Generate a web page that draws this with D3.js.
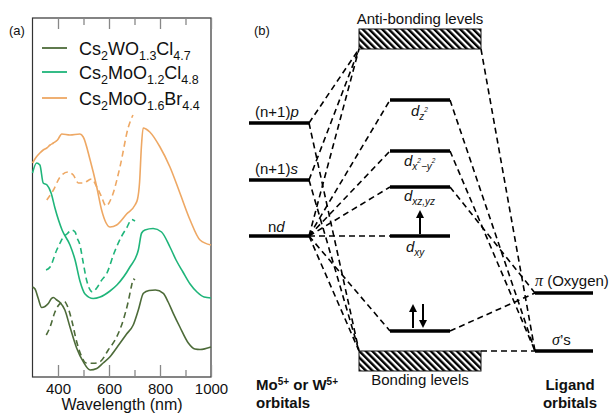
<!DOCTYPE html>
<html>
<head>
<meta charset="utf-8">
<script src="https://cdn.jsdelivr.net/npm/d3@7"></script>
<style>
  body { margin: 0; background: #fff; }
  svg { display: block; font-family: "Liberation Sans", Arial, Helvetica, sans-serif; }
</style>
</head>
<body>
<svg id="chart" width="612" height="414"></svg>
<script>
// ---------- Panel (a): absorption spectra (arbitrary units, vertically offset) ----------
const compounds = ["Cs2WO1.3Cl4.7", "Cs2MoO1.2Cl4.8", "Cs2MoO1.6Br4.4"];
const compoundColors = ["#4d6b39", "#1fb57a", "#eea864"];

const wSolidNm  = [300,310,322,336,349,362,375,382,395,408,427,447,473,499,526,552,577,604,635,669,695,715,735,757,782,813,832,852,878,911,937,957,1000];
const wSolidAbs = [0.90,0.88,0.79,0.695,0.705,0.735,0.787,0.795,0.77,0.745,0.67,0.50,0.29,0.153,0.07,0.085,0.14,0.203,0.31,0.43,0.52,0.67,0.837,0.865,0.87,0.837,0.75,0.637,0.50,0.34,0.28,0.275,0.30];
const wDashNm   = [354,369,388,400,415,425,435,454,473,493,510,538,565,597,630,656,675,689,695,702];
const wDashAbs  = [0.42,0.50,0.65,0.71,0.745,0.755,0.72,0.565,0.355,0.203,0.14,0.137,0.153,0.27,0.40,0.57,0.75,0.92,0.98,0.97];

const mSolidNm  = [300,316,329,342,357,373,388,416,447,467,486,506,538,565,604,631,682,715,728,741,773,806,839,863,890,918,945,973,1000];
const mSolidAbs = [2.04,2.14,2.12,1.94,1.92,1.84,1.69,1.47,1.32,1.17,0.96,0.83,0.785,0.80,0.86,0.92,1.10,1.27,1.44,1.47,1.485,1.45,1.30,1.17,1.05,0.93,0.85,0.80,0.79];
const mDashNm   = [353,369,395,408,421,435,454,467,475,486,497,512,522,535,552,569,592,620,650,669,689,702];
const mDashAbs  = [1.07,1.10,1.27,1.34,1.40,1.43,1.47,1.45,1.39,1.32,1.17,0.97,0.89,0.85,0.89,0.96,1.04,1.24,1.41,1.49,1.575,1.56];

const bSolidNm  = [300,315,329,342,356,369,382,398,415,447,486,499,526,552,571,604,630,669,702,712,720,727,734,745,760,800,839,878,918,957,1000];
const bSolidAbs = [2.14,2.20,2.24,2.27,2.29,2.32,2.34,2.37,2.43,2.42,2.43,2.40,2.17,1.90,1.67,1.50,1.52,1.63,1.72,1.78,1.95,2.30,2.49,2.48,2.45,2.30,2.10,1.84,1.57,1.37,1.32];
const bDashNm   = [356,382,408,440,460,480,499,532,552,571,588,611,643,676,694];
const bDashAbs  = [1.77,1.87,2.00,2.05,2.02,1.94,1.94,1.98,1.90,1.80,1.71,1.80,2.10,2.50,2.62];

const majorTicks = [400, 600, 800, 1000];
const minorTicks = [500, 700, 900];

// ---------- Panel (b): energy-level diagram ----------
const metalLevels  = ["np", "ns", "nd"];
const metalEnergy  = [69.25, 55, 41];
const dLevels      = ["dz2", "dx2y2", "dxz", "dxy", "bond"];
const dEnergy      = [75, 62.25, 53.25, 41, 17.25];
const ligandLevels = ["pi", "sigma"];
const ligandEnergy = [26.75, 12.25];
const bandNames    = ["anti", "bonding"];
const bandTop      = [92.75, 12.25];
const bandBottom   = [87.75, 7.25];
const links = [
  ["np", "antiL"], ["ns", "antiL"], ["nd", "antiL"],
  ["np", "bondingL"], ["ns", "bondingL"], ["nd", "bondingL"],
  ["nd", "dz2"], ["nd", "dx2y2"], ["nd", "dxz"], ["nd", "dxy"], ["nd", "bond"],
  ["dz2", "sigma"], ["dx2y2", "sigma"], ["dxz", "pi"], ["bond", "pi"],
  ["antiR", "sigma"], ["bondingR", "sigma"]
];

const svg = d3.select("#chart");

// ===== Panel (a) =====
const xA = d3.scaleLinear().domain([300, 1000]).range([32.5, 211]);
const yA = d3.scaleLinear().domain([0, 3.59]).range([377, 18]);

svg.append("rect")
  .attr("x", xA(300)).attr("y", yA(3.59))
  .attr("width", xA(1000) - xA(300)).attr("height", yA(0) - yA(3.59))
  .attr("fill", "none").attr("stroke", "#333").attr("stroke-width", 1.2);

function tickAxis(axisFn, values, size, y, labels) {
  const g = svg.append("g").attr("transform", `translate(0,${y})`)
    .call(axisFn(xA).tickValues(values).tickSize(size).tickFormat(labels ? d3.format("d") : ""));
  g.select(".domain").remove();
  g.selectAll(".tick line").attr("stroke", "#888").attr("stroke-width", 1.3);
  return g;
}
const bottomMajor = tickAxis(d3.axisBottom, majorTicks, -12, yA(0), true);
tickAxis(d3.axisBottom, minorTicks, -7, yA(0), false);
tickAxis(d3.axisTop, majorTicks, -11, yA(3.59), false);
tickAxis(d3.axisTop, minorTicks, -7, yA(3.59), false);
bottomMajor.selectAll(".tick text")
  .attr("y", 17).attr("dy", 0)
  .attr("font-size", 15).attr("fill", "#111")
  .attr("font-family", "Liberation Sans, Arial, sans-serif");

svg.append("text").attr("x", 122).attr("y", 410)
  .attr("text-anchor", "middle").attr("font-size", 16).attr("fill", "#111")
  .text("Wavelength (nm)");

svg.append("text").attr("x", 9).attr("y", 35).attr("font-size", 13).attr("fill", "#111").text("(a)");

const line = d3.line().x(d => xA(d[0])).y(d => yA(d[1])).curve(d3.curveMonotoneX);
const series = [
  { nm: wSolidNm, abs: wSolidAbs, c: 0, dash: null },
  { nm: wDashNm,  abs: wDashAbs,  c: 0, dash: "6,4" },
  { nm: mSolidNm, abs: mSolidAbs, c: 1, dash: null },
  { nm: mDashNm,  abs: mDashAbs,  c: 1, dash: "6,4" },
  { nm: bSolidNm, abs: bSolidAbs, c: 2, dash: null },
  { nm: bDashNm,  abs: bDashAbs,  c: 2, dash: "6,4" }
];
series.forEach(s => {
  svg.append("path")
    .attr("d", line(d3.zip(s.nm, s.abs)))
    .attr("fill", "none")
    .attr("stroke", compoundColors[s.c])
    .attr("stroke-width", 1.6)
    .attr("stroke-dasharray", s.dash);
});

// legend with subscripted stoichiometry
const legend = svg.append("g");
const legendY = [48, 72, 98];
compounds.forEach((name, i) => {
  legend.append("line")
    .attr("x1", 42).attr("x2", 67).attr("y1", legendY[i]).attr("y2", legendY[i])
    .attr("stroke", compoundColors[i]).attr("stroke-width", 1.8);
  const t = legend.append("text").attr("x", 79).attr("y", legendY[i] + 6.5)
    .attr("font-size", 18).attr("fill", "#111");
  const parts = name.split(/(\d+(?:\.\d+)?)/).filter(p => p.length);
  let lowered = false;
  parts.forEach(p => {
    const isNum = /^\d/.test(p);
    const ts = t.append("tspan").text(p);
    if (isNum) { ts.attr("font-size", 12.5).attr("dy", lowered ? 0 : 5); lowered = true; }
    else { ts.attr("dy", lowered ? -5 : 0); lowered = false; }
  });
});

// ===== Panel (b) =====
const eY = d3.scaleLinear().domain([0, 100]).range([400, 0]);
const colMetal = [249, 309], colMid = [390, 450], colBand = [359, 481], colLig = [535, 593];

const bg = svg.append("g");
const defs = svg.append("defs");
defs.append("pattern").attr("id", "hatch").attr("patternUnits", "userSpaceOnUse")
  .attr("width", 4.6).attr("height", 4.6).attr("patternTransform", "rotate(-45)")
  .append("rect").attr("x", 0).attr("y", 0).attr("width", 2.4).attr("height", 4.6)
  .attr("fill", "#000");

const anchors = {};
metalLevels.forEach((k, i) => { anchors[k] = [colMetal[1], eY(metalEnergy[i])]; });
dLevels.forEach((k, i) => { anchors[k] = [colMid[0], eY(dEnergy[i])]; anchors[k + "R"] = [colMid[1], eY(dEnergy[i])]; });
ligandLevels.forEach((k, i) => { anchors[k] = [colLig[0], eY(ligandEnergy[i])]; });
anchors.antiL = [colBand[0], eY(bandBottom[0])];
anchors.antiR = [colBand[1], eY(bandBottom[0])];
anchors.bondingL = [colBand[0], eY(bandTop[1])];
anchors.bondingR = [colBand[1], eY(bandTop[1])];

// dashed correlation lines (drawn first, under the levels)
links.forEach(([a, b]) => {
  const rightSide = ["sigma", "pi"].includes(b) && dLevels.includes(a);
  const p = rightSide ? anchors[a + "R"] : anchors[a];
  const q = anchors[b];
  bg.append("line")
    .attr("x1", p[0]).attr("y1", p[1]).attr("x2", q[0]).attr("y2", q[1])
    .attr("stroke", "#000").attr("stroke-width", 1.6).attr("stroke-dasharray", "6,4");
});

// hatched bands
bandNames.forEach((k, i) => {
  bg.append("rect")
    .attr("x", colBand[0]).attr("y", eY(bandTop[i]))
    .attr("width", colBand[1] - colBand[0]).attr("height", eY(bandBottom[i]) - eY(bandTop[i]))
    .attr("fill", "url(#hatch)").attr("stroke", "#111").attr("stroke-width", 1);
});

// level bars
const levelBar = (x0, x1, y) => bg.append("line").attr("x1", x0).attr("x2", x1).attr("y1", y).attr("y2", y)
  .attr("stroke", "#000").attr("stroke-width", 3.5);
metalEnergy.forEach(e => levelBar(colMetal[0], colMetal[1], eY(e)));
dEnergy.forEach(e => levelBar(colMid[0], colMid[1], eY(e)));
ligandEnergy.forEach(e => levelBar(colLig[0], colLig[1], eY(e)));

// arrows
function arrow(x, yFrom, yTo) {
  const dir = yTo < yFrom ? -1 : 1;
  bg.append("line").attr("x1", x).attr("x2", x).attr("y1", yFrom).attr("y2", yTo - dir * 7)
    .attr("stroke", "#000").attr("stroke-width", 2);
  bg.append("path").attr("d", `M${x - 4},${yTo - dir * 8} L${x + 4},${yTo - dir * 8} L${x},${yTo} Z`).attr("fill", "#000");
}
arrow(420, eY(dEnergy[3]) - 2, eY(dEnergy[2]) + 23);
arrow(413, eY(dEnergy[4]) - 3, eY(dEnergy[4]) - 27);
arrow(423, eY(dEnergy[4]) - 27, eY(dEnergy[4]) - 3);

// text labels
const txt = (x, y, s, opts = {}) => {
  const t = svg.append("text").attr("x", x).attr("y", y).attr("font-size", opts.size || 15).attr("fill", "#111");
  if (opts.anchor) t.attr("text-anchor", opts.anchor);
  if (opts.weight) t.attr("font-weight", opts.weight);
  if (opts.style) t.attr("font-style", opts.style);
  if (s) t.text(s);
  return t;
};
txt(254, 35, "(b)", { size: 13 });
txt(420, 24, "Anti-bonding levels", { anchor: "middle" });
txt(420, 385, "Bonding levels", { anchor: "middle" });

let t = txt(255, eY(metalEnergy[0]) - 6, null);
t.append("tspan").text("(n+1)"); t.append("tspan").attr("font-style", "italic").text("p");
t = txt(255, eY(metalEnergy[1]) - 6, null);
t.append("tspan").text("(n+1)"); t.append("tspan").attr("font-style", "italic").text("s");
t = txt(268, eY(metalEnergy[2]) - 4, null);
t.append("tspan").text("n"); t.append("tspan").attr("font-style", "italic").text("d");

// d-orbital labels
t = txt(411, eY(dEnergy[0]) + 16, null, { style: "italic" });
t.append("tspan").text("d");
t.append("tspan").attr("font-size", 10).attr("dy", 4).text("z");
t.append("tspan").attr("font-size", 6.5).attr("dy", -8).text("2");

t = txt(404, eY(dEnergy[1]) + 15, null, { style: "italic" });
t.append("tspan").text("d");
t.append("tspan").attr("font-size", 10).attr("dy", 4).text("x");
t.append("tspan").attr("font-size", 6.5).attr("dy", -7).text("2");
t.append("tspan").attr("font-size", 10).attr("dy", 7).text("\u2212y");
t.append("tspan").attr("font-size", 6.5).attr("dy", -7).text("2");

t = txt(404, eY(dEnergy[2]) + 14, null, { style: "italic" });
t.append("tspan").text("d");
t.append("tspan").attr("font-size", 10).attr("dy", 4).text("xz,yz");

t = txt(406, eY(dEnergy[3]) + 16, null, { style: "italic" });
t.append("tspan").text("d");
t.append("tspan").attr("font-size", 10).attr("dy", 4).text("xy");

// ligand labels
t = txt(535, eY(ligandEnergy[0]) - 7, null);
t.append("tspan").attr("font-family", "Liberation Serif, Times New Roman, serif").attr("font-style", "italic").attr("font-size", 16).text("\u03c0");
t.append("tspan").text(" (Oxygen)");
t = txt(552, eY(ligandEnergy[1]) - 6, null);
t.append("tspan").attr("font-family", "Liberation Serif, Times New Roman, serif").attr("font-style", "italic").attr("font-size", 16).text("\u03c3");
t.append("tspan").text("\u2019s");

// column captions
t = txt(256, 390, null, { weight: "bold" });
t.append("tspan").text("Mo");
t.append("tspan").attr("font-size", 10).attr("dy", -5).text("5+");
t.append("tspan").attr("dy", 5).text(" or W");
t.append("tspan").attr("font-size", 10).attr("dy", -5).text("5+");
txt(256, 408, "orbitals", { weight: "bold" });
txt(570, 390, "Ligand", { weight: "bold", anchor: "middle" });
txt(570, 408, "orbitals", { weight: "bold", anchor: "middle" });
</script>
</body>
</html>
